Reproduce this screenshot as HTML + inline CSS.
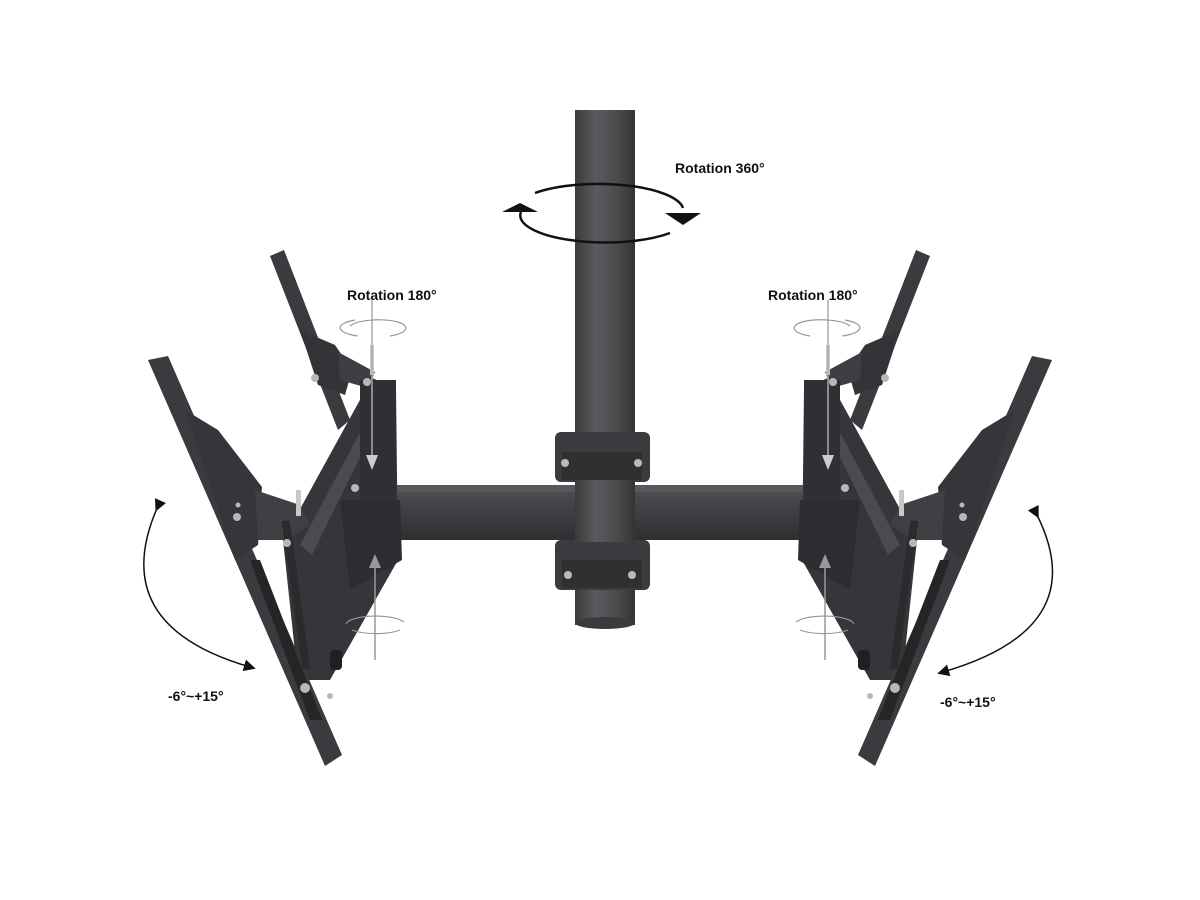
<!DOCTYPE html>
<html><head><meta charset="utf-8"><style>
html,body{margin:0;padding:0;background:#fff;}
svg{display:block}
text{font-family:"Liberation Sans",sans-serif;font-weight:bold;font-size:14px;fill:#111}
</style></head><body>
<svg width="1200" height="900" viewBox="0 0 1200 900" xmlns="http://www.w3.org/2000/svg">
<defs>
<linearGradient id="pole" x1="0" x2="1" y1="0" y2="0">
<stop offset="0" stop-color="#3a3b3d"/><stop offset="0.35" stop-color="#5a5b5e"/><stop offset="0.7" stop-color="#4a4b4d"/><stop offset="1" stop-color="#333436"/>
</linearGradient>
<linearGradient id="bar" x1="0" x2="0" y1="0" y2="1">
<stop offset="0" stop-color="#505154"/><stop offset="0.5" stop-color="#3e3f42"/><stop offset="1" stop-color="#2e2f31"/>
</linearGradient>
<marker id="ah" markerWidth="8" markerHeight="8" refX="4" refY="4" orient="auto"><path d="M0,0 L8,4 L0,8 z" fill="#111"/></marker>
<marker id="ahg" markerWidth="8" markerHeight="8" refX="4" refY="4" orient="auto"><path d="M0,0 L8,4 L0,8 z" fill="#888"/></marker>
<g id="side">
  <!-- back plate -->
  <polygon points="270,256 284,250 350,420 338,430" fill="#3a3b3e"/>
  <polygon points="300,330 335,345 352,370 345,395 318,385" fill="#333437"/>
  <polygon points="338,352 375,372 368,388 340,380" fill="#3d3e41"/>
  <!-- diagonal rail / arm -->
  <polygon points="283,540 372,378 396,388 398,560 330,680 298,680" fill="#35363a"/>
  <polygon points="300,545 380,395 388,400 312,555" fill="#4a4b4f"/>
  <rect x="360" y="380" width="36" height="120" fill="#2f3033"/>
  <polygon points="340,500 400,500 402,560 350,590" fill="#2c2d30"/>
  <!-- front plate -->
  <polygon points="148,360 168,356 342,755 325,766" fill="#3a3b3e"/>
  <polygon points="185,410 218,430 262,487 258,545 235,560 205,470" fill="#35363a"/>
  <polygon points="255,490 300,505 310,525 285,540 258,540" fill="#3f4043"/>
  <polygon points="250,560 260,560 322,720 310,720" fill="#242527"/>
  <rect x="292" y="520" width="8" height="150" fill="#2a2b2d" transform="rotate(-8 296 595)"/>
  <!-- bolts -->
  <g fill="#b8b8b8">
    <circle cx="237" cy="517" r="4"/><circle cx="238" cy="505" r="2.5"/>
    <circle cx="287" cy="543" r="4"/><circle cx="315" cy="378" r="4"/>
    <circle cx="367" cy="382" r="4"/><circle cx="355" cy="488" r="4"/>
    <circle cx="305" cy="688" r="5"/><circle cx="330" cy="696" r="3"/>
  </g>
  <rect x="296" y="490" width="5" height="26" fill="#c8c8c8"/>
  <rect x="370" y="345" width="4" height="30" fill="#c8c8c8"/>
  <rect x="330" y="650" width="12" height="20" rx="4" fill="#1f2022"/>
  <!-- gray axis -->
  <line x1="372" y1="300" x2="372" y2="468" stroke="#aaa" stroke-width="1.5"/>
  <polygon points="366,455 378,455 372,470" fill="#ccc"/>
  <line x1="375" y1="556" x2="375" y2="660" stroke="#999" stroke-width="1.5"/>
  <polygon points="369,568 381,568 375,554" fill="#999"/>
  <g fill="none" stroke="#999" stroke-width="1.2">
    <path d="M355,320 A30,9 0 0 0 358,336 M390,336 A30,9 0 0 0 398,322 M350,326 A30,9 0 0 1 398,322"/>
    <path d="M352,630 A30,9 0 0 0 400,630 M346,624 A30,9 0 0 1 404,622"/>
  </g>
</g>
</defs>

<!-- pole -->
<rect x="575" y="110" width="60" height="515" fill="url(#pole)"/>
<ellipse cx="605" cy="623" rx="30" ry="6" fill="#3a3b3d"/>
<!-- bar -->
<rect x="370" y="485" width="460" height="55" fill="url(#bar)"/>
<rect x="370" y="485" width="460" height="7" fill="#58595c"/>
<!-- clamps -->
<rect x="555" y="432" width="95" height="50" rx="6" fill="#3a3b3e"/>
<rect x="562" y="452" width="80" height="28" fill="#2f3032"/>
<rect x="555" y="540" width="95" height="50" rx="6" fill="#3a3b3e"/>
<rect x="562" y="560" width="80" height="28" fill="#2f3032"/>
<rect x="575" y="480" width="60" height="62" fill="url(#pole)"/>
<circle cx="568" cy="575" r="4" fill="#bbb"/><circle cx="632" cy="575" r="4" fill="#bbb"/>
<circle cx="565" cy="463" r="4" fill="#bbb"/><circle cx="638" cy="463" r="4" fill="#bbb"/>

<use href="#side"/>
<use href="#side" transform="translate(1200,0) scale(-1,1)"/>

<!-- 360 rotation -->
<path d="M535,193 A85,27 0 0 1 683,208" fill="none" stroke="#111" stroke-width="2.5"/>
<path d="M521,212 A85,27 0 0 0 670,233" fill="none" stroke="#111" stroke-width="2.5"/>
<polygon points="502,212 538,212 520,203" fill="#111"/>
<polygon points="665,213 701,213 683,225" fill="#111"/>
<text x="675" y="173">Rotation 360°</text>

<text x="347" y="300">Rotation 180°</text>
<text x="768" y="300">Rotation 180°</text>

<!-- tilt arcs -->
<path d="M158,506 Q105,625 250,667" fill="none" stroke="#111" stroke-width="1.5" marker-start="url(#ah)" marker-end="url(#ah)"/>
<path d="M1036,513 Q1095,628 943,672" fill="none" stroke="#111" stroke-width="1.5" marker-start="url(#ah)" marker-end="url(#ah)"/>
<text x="168" y="701">-6°~+15°</text>
<text x="940" y="707">-6°~+15°</text>
</svg>
</body></html>
